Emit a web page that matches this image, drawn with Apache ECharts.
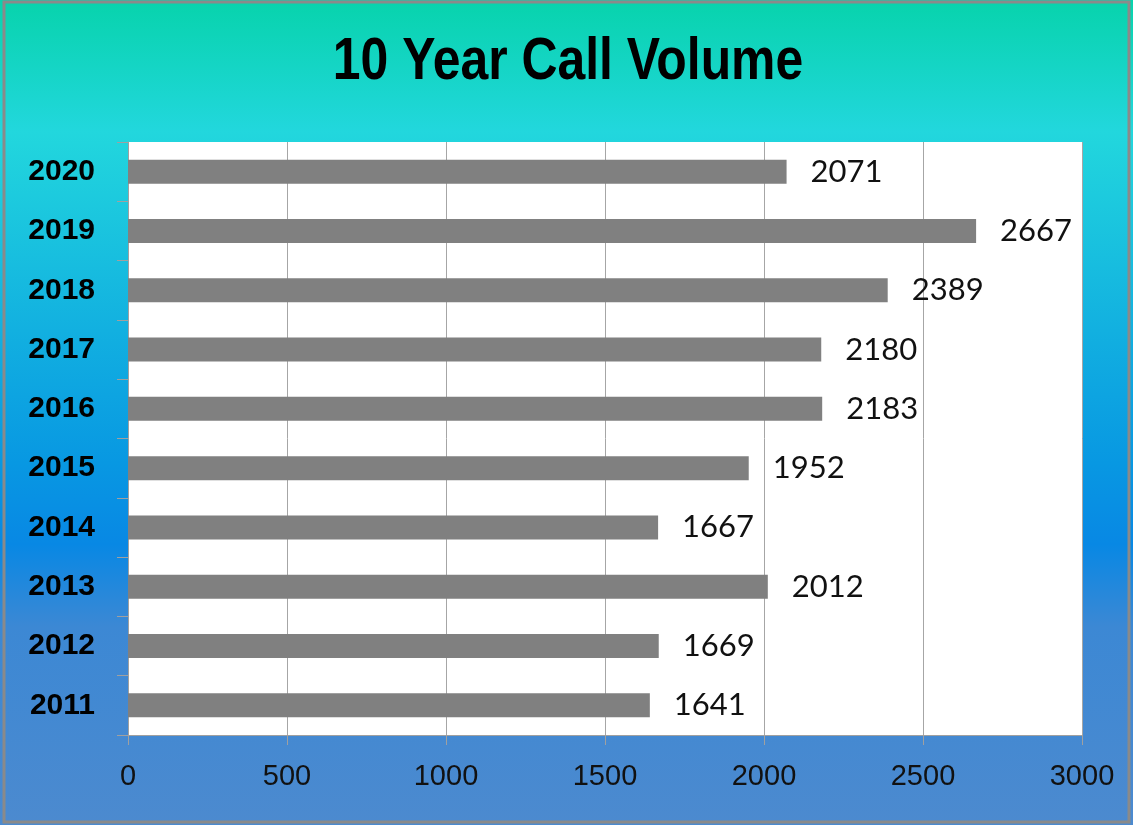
<!DOCTYPE html>
<html>
<head>
<meta charset="utf-8">
<script src="https://cdn.jsdelivr.net/npm/echarts@6/dist/echarts.min.js"></script>
<style>
    html, body { margin: 0; padding: 0; background: #fff; }
    #chart { width: 1133px; height: 825px; }
</style>
</head>
<body>
<div id="chart"></div>
<script>
    const years = ['2011', '2012', '2013', '2014', '2015', '2016', '2017', '2018', '2019', '2020']
    const calls = [1641, 1669, 2012, 1667, 1952, 2183, 2180, 2389, 2667, 2071]
    const xTicks = [0, 500, 1000, 1500, 2000, 2500, 3000]
    const titleText = '10 Year Call Volume'

    const sans = "'Liberation Sans', Arial, sans-serif"

    const chart = echarts.init(document.getElementById('chart'))

    const option = {
        backgroundColor: {
            type: 'linear', x: 0, y: 0, x2: 0, y2: 1,
            colorStops: [
                { offset: 0, color: '#07d3ac' },
                { offset: 0.16, color: '#22d7dd' },
                { offset: 0.4, color: '#12b0e0' },
                { offset: 0.56, color: '#0898e2' },
                { offset: 0.66, color: '#0888e4' },
                { offset: 0.76, color: '#3c88d4' },
                { offset: 1, color: '#4c8acf' }
            ]
        },
        animation: false,
        graphic: [
            {
                type: 'rect',
                shape: { x: 4, y: 2, width: 1125, height: 820 },
                style: { fill: 'none', stroke: '#8a8a8a', lineWidth: 3 },
                silent: true
            },
            // title, squeezed to look like a narrow bold face
            {
                type: 'text',
                x: 568,
                y: 63,
                scaleX: 0.86,
                scaleY: 1.02,
                style: {
                    text: titleText,
                    x: 0,
                    y: 0,
                    align: 'center',
                    verticalAlign: 'middle',
                    font: "bold 58px 'Liberation Sans', Arial, sans-serif",
                    fill: '#000'
                },
                silent: true
            }
        ],
        grid: {
            left: 128,
            top: 142,
            right: 51,
            bottom: 90,
            show: true,
            backgroundColor: '#fff',
            borderWidth: 0
        },
        xAxis: {
            type: 'value',
            min: xTicks[0],
            max: xTicks[xTicks.length - 1],
            interval: 500,
            axisLine: { show: true, lineStyle: { color: '#a0a0a0', width: 1 } },
            axisTick: { show: true, length: 10, lineStyle: { color: '#a0a0a0' } },
            splitLine: { show: true, lineStyle: { color: '#a6a6a6', width: 1 } },
            axisLabel: {
                fontFamily: sans,
                fontSize: 29,
                color: '#111',
                margin: 27,
                formatter: v => String(v)
            }
        },
        yAxis: {
            type: 'category',
            data: years,
            axisLine: { show: true, lineStyle: { color: '#a0a0a0', width: 1 } },
            axisTick: { show: true, length: 11, lineStyle: { color: '#a0a0a0' } },
            splitLine: { show: false },
            axisLabel: {
                fontFamily: sans,
                fontWeight: 'bold',
                fontSize: 30,
                color: '#000',
                margin: 33
            }
        },
        series: [
            {
                name: 'calls',
                type: 'bar',
                barWidth: 24,
                data: calls,
                itemStyle: { color: '#808080' },
                label: {
                    show: true,
                    position: 'right',
                    distance: 24,
                    fontFamily: "Lato, 'Open Sans', sans-serif",
                    fontSize: 31,
                    color: '#111'
                }
            }
        ]
    }

    chart.setOption(option)
</script>
</body>
</html>
